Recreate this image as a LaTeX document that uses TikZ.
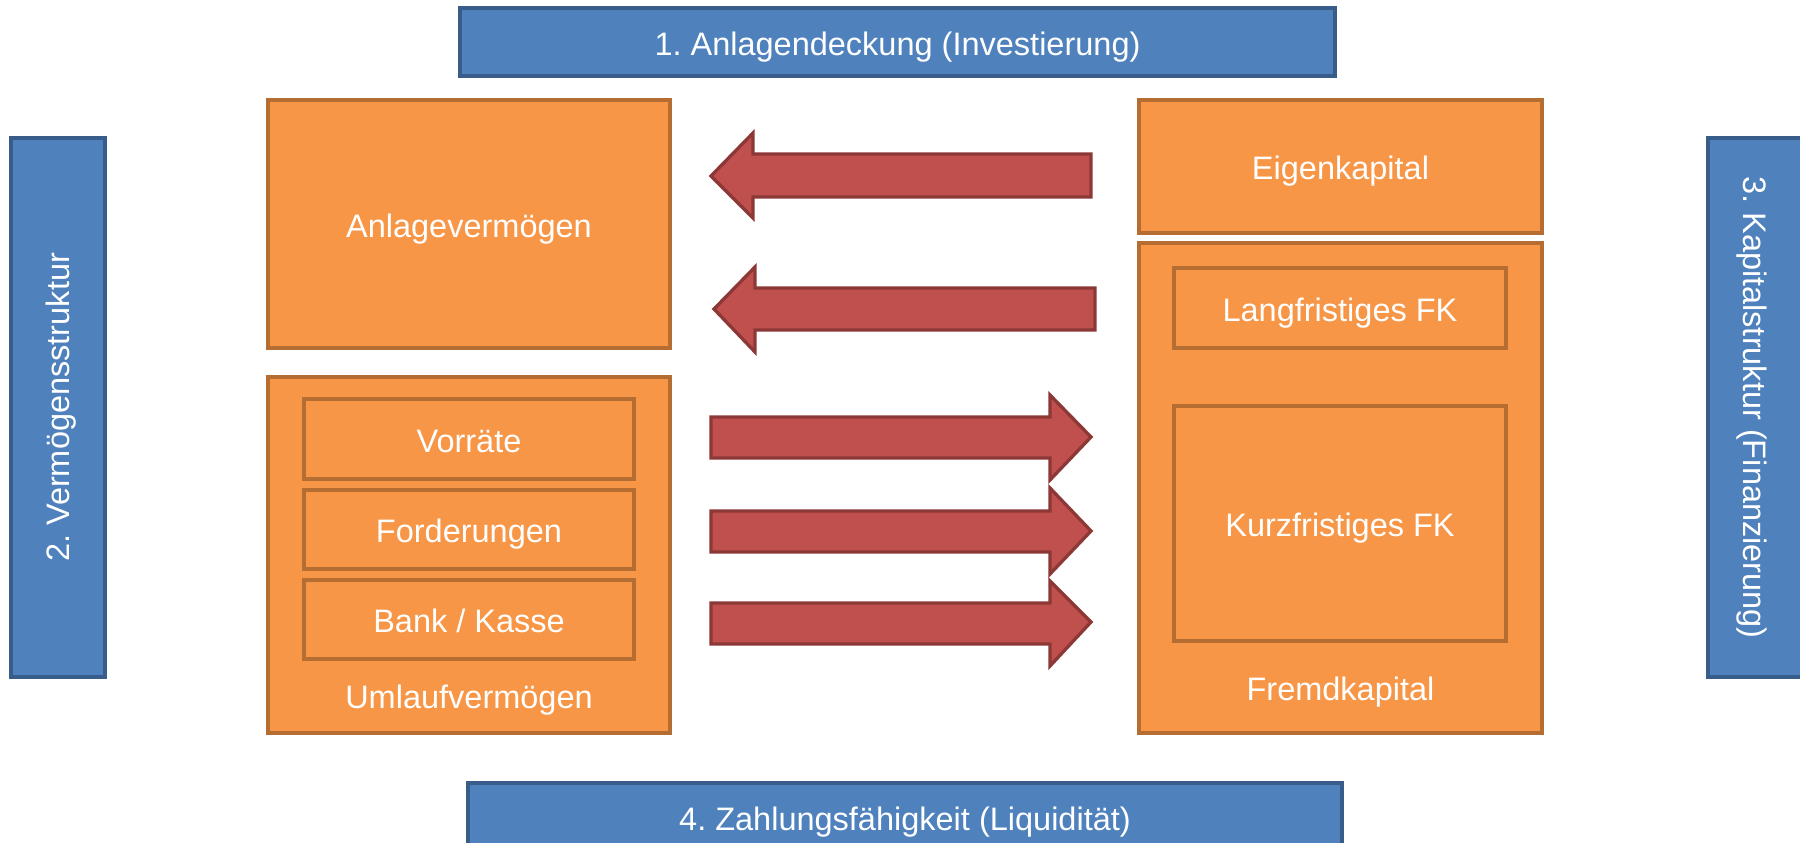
\documentclass[tikz,border=0pt]{standalone}
\usepackage{fontspec}
\setmainfont{Liberation Sans}
\frenchspacing
\definecolor{orfill}{HTML}{F79646}
\definecolor{ordraw}{HTML}{B66D31}
\definecolor{blfill}{HTML}{4F81BD}
\definecolor{bldraw}{HTML}{385D8A}
\definecolor{rdfill}{HTML}{C0504D}
\definecolor{rddraw}{HTML}{8C3836}
\tikzset{
  txt/.style={text=white, inner sep=0pt, font=\fontsize{32.5}{38}\selectfont, text height=33pt, text depth=6.9pt},
  obox/.style={txt, draw=ordraw, fill=orfill, line width=3.3pt},
  bbox/.style={txt, draw=bldraw, fill=blfill, line width=3.3pt},
  vbox/.style={bbox, text height=29.4pt},
  lbl/.style={txt},
  blockarrow/.style={draw=rddraw, fill=rdfill, line width=3.3pt, line join=miter}
}
\begin{document}
\begin{tikzpicture}[x=1pt, y=-1pt]
\useasboundingbox (0,0) rectangle (1800,843);
% blue frame boxes
\node[bbox, minimum width=875pt, minimum height=68pt] (top) at (897.5,42) {1. Anlagendeckung (Investierung)};
\node[bbox, minimum width=874pt, minimum height=68pt] (bottom) at (905,817) {4. Zahlungsfähigkeit (Liquidität)};
\node[vbox, minimum width=539pt, minimum height=94pt, rotate=90] (left) at (58,407.5) {2. Vermögensstruktur};
\node[vbox, minimum width=539pt, minimum height=94pt, rotate=-90] (right) at (1755,407.5) {3. Kapitalstruktur (Finanzierung)};
% asset side
\node[obox, minimum width=402pt, minimum height=248pt] (av) at (469,224) {Anlagevermögen};
\node[obox, minimum width=402pt, minimum height=356pt] (uv) at (469,555) {};
\node[lbl] (uvlabel) at (469,695) {Umlaufvermögen};
\node[obox, minimum width=330pt, minimum height=80pt] (vorr) at (469,439) {Vorräte};
\node[obox, minimum width=330pt, minimum height=79pt] (ford) at (469,529.5) {Forderungen};
\node[obox, minimum width=330pt, minimum height=79pt] (bank) at (469,619.5) {Bank / Kasse};
% capital side
\node[obox, minimum width=403pt, minimum height=133pt] (ek) at (1340.5,166.5) {Eigenkapital};
\node[obox, minimum width=403pt, minimum height=490pt] (fk) at (1340.5,488) {};
\node[lbl] (fklabel) at (1340.5,687) {Fremdkapital};
\node[obox, minimum width=332pt, minimum height=80pt] (lfk) at (1340,308) {Langfristiges FK};
\node[obox, minimum width=332pt, minimum height=235pt] (kfk) at (1340,523.5) {Kurzfristiges FK};
% block arrows pointing left
\draw[blockarrow] (1091,154) -- (753,154) -- (753,133) -- (711,176) -- (753,218) -- (753,197) -- (1091,197) -- cycle;
\draw[blockarrow] (1095,288) -- (755,288) -- (755,267) -- (714,309) -- (755,352) -- (755,330) -- (1095,330) -- cycle;
% block arrows pointing right
\draw[blockarrow] (711,417) -- (1050,417) -- (1050,395) -- (1091,437) -- (1050,480) -- (1050,458) -- (711,458) -- cycle;
\draw[blockarrow] (711,511) -- (1050,511) -- (1050,488) -- (1091,531) -- (1050,574) -- (1050,552) -- (711,552) -- cycle;
\draw[blockarrow] (711,603) -- (1050,603) -- (1050,581) -- (1091,622) -- (1050,666) -- (1050,644) -- (711,644) -- cycle;
\end{tikzpicture}
\end{document}
